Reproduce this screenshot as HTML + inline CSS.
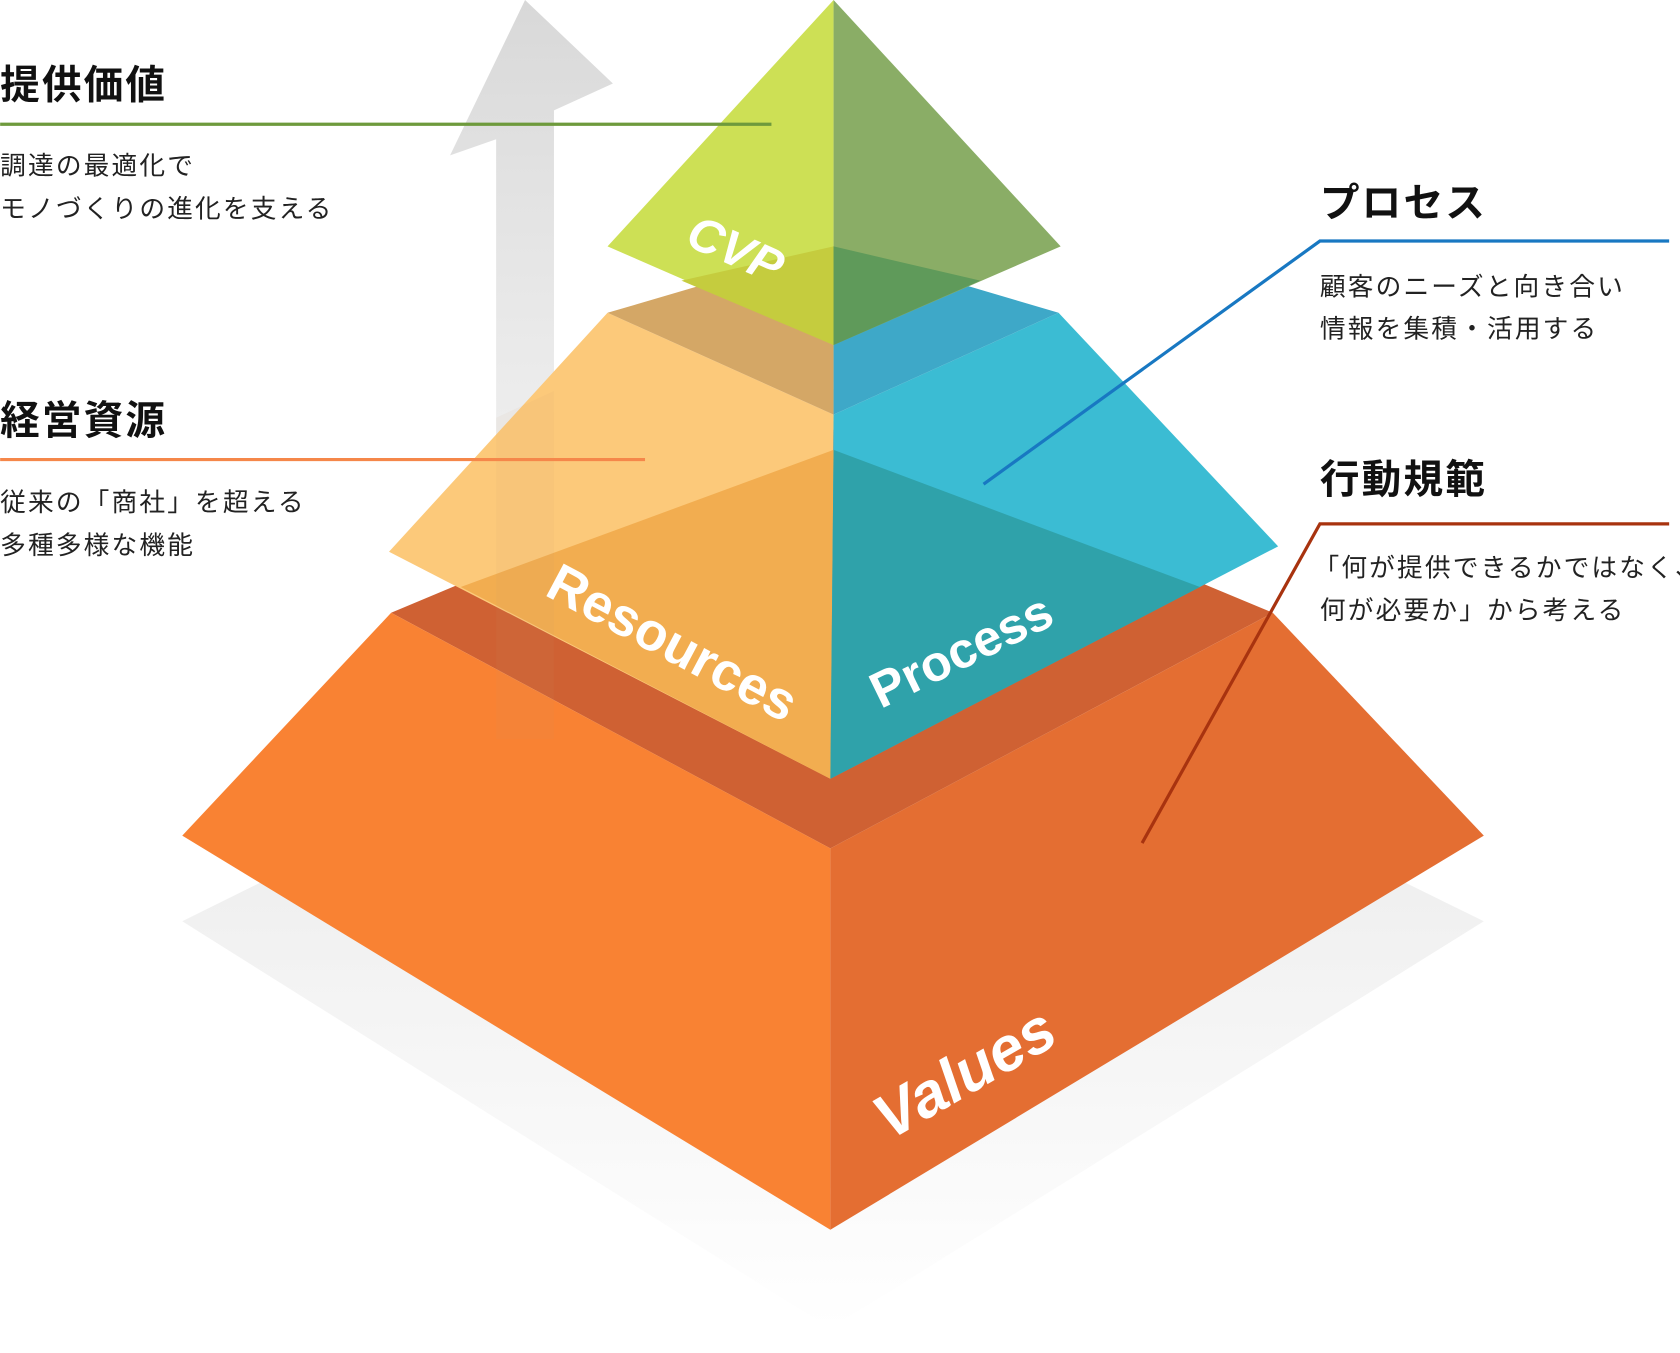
<!DOCTYPE html>
<html><head><meta charset="utf-8"><style>
html,body{margin:0;padding:0;background:#fff;}
svg{display:block;}
.h{font-family:"Liberation Sans","Noto Sans CJK JP",sans-serif;font-weight:700;font-size:37px;letter-spacing:2px;fill:#111;}
.b{font-family:"Liberation Sans","Noto Sans CJK JP",sans-serif;font-size:24px;letter-spacing:2px;fill:#222;}
.w{font-family:"Liberation Sans","DejaVu Sans",sans-serif;font-weight:700;fill:#fff;}
</style></head><body>
<svg width="1680" height="1353" viewBox="0 0 1568 1263" xmlns="http://www.w3.org/2000/svg">
<defs>
<linearGradient id="ag" x1="0" y1="0" x2="0" y2="1"><stop offset="0" stop-color="#d8d8d8"/><stop offset="1" stop-color="#e8e8e8" stop-opacity="0.3"/></linearGradient>
<linearGradient id="sg" x1="0" y1="0" x2="0" y2="1"><stop offset="0" stop-color="#e6e6e6"/><stop offset="1" stop-color="#ffffff"/></linearGradient>
</defs>
<polygon points="170,860 775,560 1385,860 775,1240" fill="url(#sg)"/>
<polygon points="490,0 572,78 517,103 517,690 463,690 463,130 420,145" fill="url(#ag)"/>
<polygon points="365,572 775,400 1188,572 775,792" fill="#cf6133"/>
<polygon points="170,780 365,572 775,792 775,1148" fill="#f98233"/>
<polygon points="775,792 1188,572 1385,780 775,1148" fill="#e46e32"/>
<polygon points="567,292 778,387 775,727 363,515" fill="#fcc97a"/>
<polygon points="778,387 988,292 1193,510 775,727" fill="#3bbcd3"/>
<polygon points="430,548 778,420 775,727" fill="#f2ad50"/>
<polygon points="778,420 1120,548 775,727" fill="#2fa2aa"/>
<polygon points="463,390 517,365 517,690 463,690" fill="#c8a070" opacity="0.07"/>
<polygon points="567,292 778,230 778,387" fill="#d4a766"/>
<polygon points="778,230 988,292 778,387" fill="#3ea8c8"/>
<polygon points="778,0 567,230 778,322" fill="#cde055"/>
<polygon points="778,0 990,230 778,322" fill="#8aad66"/>
<polygon points="636,262 778,230 778,322" fill="#c5cc3e"/>
<polygon points="778,230 915,262 778,322" fill="#5f9a5a"/>
<text class="w" font-size="45" font-style="italic" transform="translate(638,228) rotate(24)">CVP</text>
<text class="w" font-size="50" transform="translate(507,555) rotate(28)">Resources</text>
<text class="w" font-size="47" transform="translate(822,662) rotate(-26)">Process</text>
<text class="w" font-size="58" font-style="italic" transform="translate(830,1065) rotate(-30)">Values</text>
<text class="h" x="0" y="92">提供価値</text>
<line x1="0" y1="116" x2="720" y2="116" stroke="#6e9a3c" stroke-width="3"/>
<text class="b" x="0" y="163">調達の最適化で</text>
<text class="b" x="0" y="203">モノづくりの進化を支える</text>
<text class="h" x="0" y="405">経営資源</text>
<line x1="0" y1="429" x2="602" y2="429" stroke="#f5874a" stroke-width="3"/>
<text class="b" x="0" y="477">従来の「商社」を超える</text>
<text class="b" x="0" y="517">多種多様な機能</text>
<text class="h" x="1232" y="202">プロセス</text>
<polyline points="918,452 1232,225 1558,225" fill="none" stroke="#1878c2" stroke-width="3"/>
<text class="b" x="1232" y="276">顧客のニーズと向き合い</text>
<text class="b" x="1232" y="315">情報を集積・活用する</text>
<text class="h" x="1232" y="460">行動規範</text>
<polyline points="1066,787 1232,489 1558,489" fill="none" stroke="#a8330f" stroke-width="3"/>
<text class="b" x="1226" y="538">「何が提供できるかではなく、</text>
<text class="b" x="1232" y="578">何が必要か」から考える</text>
</svg>
</body></html>
